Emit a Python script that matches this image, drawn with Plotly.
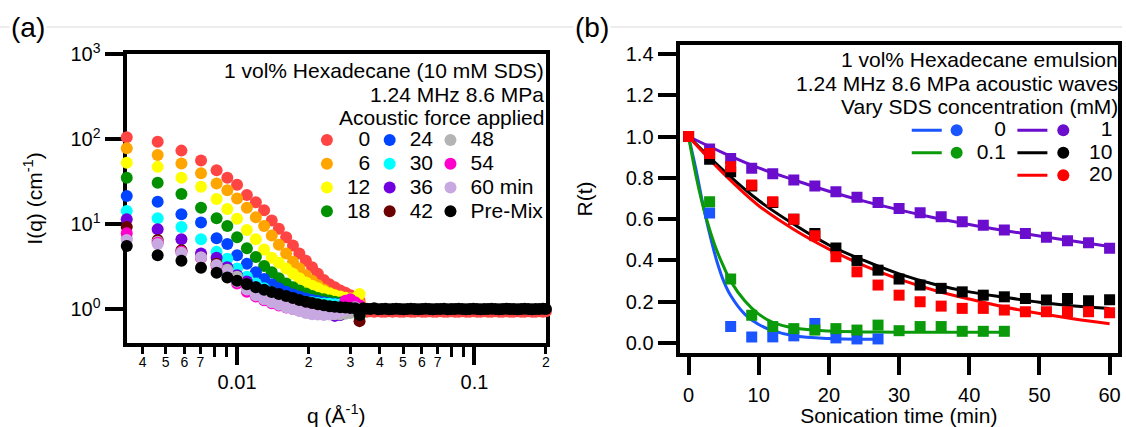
import plotly.graph_objects as go

W, H = 1126, 427
FONT = "Arial, 'Liberation Sans', sans-serif"

# ---------------- Panel (a) data ----------------
q_low = [0.00343, 0.00463, 0.00583, 0.00705, 0.0082, 0.0091, 0.0100, 0.0110, 0.0120, 0.0130,
         0.0140, 0.0150, 0.0161, 0.0172, 0.0183, 0.0195, 0.0207, 0.0219, 0.0232, 0.0245,
         0.0258, 0.0272, 0.0286, 0.0300, 0.0314, 0.0328]
q_tail = [0.0340, 0.0352, 0.0365, 0.0378, 0.0392, 0.0406, 0.0421, 0.0436, 0.0452, 0.0468,
          0.0485, 0.0503, 0.0521, 0.0540, 0.0560, 0.0580, 0.0601, 0.0623, 0.0646, 0.0669,
          0.0693, 0.0718, 0.0744, 0.0771, 0.0799, 0.0828, 0.0858, 0.0889, 0.0921, 0.0954,
          0.0989, 0.1025, 0.1062, 0.1100, 0.1140, 0.1181, 0.1224, 0.1268, 0.1314, 0.1362,
          0.1411, 0.1462, 0.1515, 0.1570, 0.1627, 0.1686, 0.1747, 0.1810, 0.1876, 0.1944, 0.2000]

I_0 = [105, 93, 73, 56, 43, 35, 29, 22, 18, 14.5, 11, 8.8, 7.0, 5.6, 4.5, 3.7, 3.1, 2.6,
       2.2, 1.95, 1.8, 1.65, 1.55, 1.45, 1.35, 1.25]
I_0_tail = [0.94, 0.93, 0.94, 0.93, 0.94, 0.93, 0.93, 0.94, 0.93, 0.94, 0.93, 0.93, 0.94, 0.93,
            0.93, 0.94, 0.93, 0.93, 0.94, 0.93, 0.93, 0.94, 0.93, 0.93, 0.94, 0.93, 0.93, 0.94,
            0.93, 0.93, 0.94, 0.93, 0.93, 0.94, 0.93, 0.93, 0.94, 0.93, 0.93, 0.94, 0.93, 0.93,
            0.94, 0.93, 0.93, 0.94, 0.93, 0.93, 0.94, 0.93, 0.94]
I_6 = [78, 65, 51.6, 39.6, 30, 25, 20, 15.5, 12, 9.5, 7.3, 5.7, 4.5, 3.6, 3.0, 2.5, 2.15, 1.9,
       1.7, 1.55, 1.45, 1.38, 1.32, 1.27, 1.22, 1.18]
I_12 = [52.6, 47, 35, 27.4, 19.7, 15, 11.5, 8.5, 6.6, 5.0, 4.0, 3.5, 3.0, 2.6, 2.3, 2.05, 1.88,
        1.75, 1.62, 1.52, 1.45, 1.4, 1.36, 1.33, 1.35, 1.5]
I_18 = [35, 30.6, 22.5, 15.5, 11.7, 9.5, 7.0, 5.2, 4.1, 3.2, 2.7, 2.3, 2.0, 1.8, 1.65, 1.52,
        1.42, 1.35, 1.3, 1.26, 1.22, 1.19, 1.16, 1.13, 1.08, 0.82]
I_24 = [21.3, 18.3, 13, 10.4, 6.8, 5.8, 4.3, 3.4, 2.7, 2.25, 1.95, 1.75, 1.6, 1.48, 1.4, 1.33,
        1.28, 1.24, 1.2, 1.17, 1.15, 1.13, 1.12, 1.12, 1.1, 1.05]
I_30 = [14.2, 11.7, 9.2, 6.6, 4.7, 3.9, 3.0, 2.4, 2.0, 1.75, 1.58, 1.45, 1.37, 1.3, 1.25, 1.22,
        1.2, 1.18, 1.16, 1.15, 1.14, 1.13, 1.12, 1.1, 1.1, 1.05]
I_36 = [11.4, 8.7, 6.6, 4.5, 4.0, 3.1, 2.5, 2.1, 1.8, 1.6, 1.45, 1.35, 1.27, 1.2, 1.15, 1.1,
        1.05, 1.0, 0.95, 0.88, 0.83, 0.85, 0.9, 0.95, 1.0, 1.0]
I_42 = [9.2, 6.5, 4.9, 4.07, 3.4, 2.8, 2.3, 1.95, 1.7, 1.5, 1.38, 1.28, 1.2, 1.14, 1.1, 1.05,
        1.02, 1.0, 0.98, 0.97, 0.96, 0.96, 0.95, 0.95, 0.93, 0.72]
I_48 = [6.8, 6.2, 4.7, 4.0, 3.2, 2.9, 2.4, 1.85, 1.6, 1.45, 1.33, 1.24, 1.16, 1.1, 1.04, 0.99,
        0.95, 0.92, 0.9, 0.88, 0.87, 0.87, 0.88, 0.9, 0.93, 0.95]
I_54 = [7.8, 6.0, 4.7, 4.0, 3.2, 2.6, 2.0, 1.6, 1.4, 1.27, 1.17, 1.1, 1.04, 1.0, 0.96, 0.93,
        0.91, 0.9, 0.89, 0.9, 0.93, 1.0, 1.25, 1.3, 1.2, 1.1]
I_60 = [6.5, 5.8, 4.6, 4.07, 3.3, 2.7, 2.1, 1.7, 1.45, 1.3, 1.2, 1.12, 1.05, 1.0, 0.95, 0.9,
        0.87, 0.86, 0.85, 0.86, 0.88, 0.92, 0.97, 1.0, 1.05, 1.0]
I_pre = [5.5, 4.3, 3.7, 3.06, 2.67, 2.35, 2.15, 1.95, 1.8, 1.68, 1.58, 1.5, 1.42, 1.35, 1.28,
         1.22, 1.18, 1.14, 1.11, 1.08, 1.06, 1.05, 1.04, 1.03, 1.02, 0.85]
I_pre_tail = [1.02, 1.01, 1.0, 1.02, 0.99, 1.0, 1.01, 0.99, 1.0, 1.01, 1.0, 0.99, 1.0, 1.01,
              1.0, 0.99, 1.0, 1.01, 1.0, 0.99, 1.0, 1.0, 1.01, 0.99, 1.0, 1.0, 1.01, 1.0, 0.99,
              1.0, 1.01, 1.0, 0.99, 1.0, 1.0, 1.01, 1.0, 0.99, 1.0, 1.01, 1.0, 1.0, 0.99, 1.0,
              1.01, 1.0, 0.99, 1.0, 1.0, 1.01, 1.0]

a_labels = ["\u20070", "\u20076", "12", "18", "24", "30", "36", "42", "48", "54", "60 min", "Pre-Mix"]
a_colors = ["#FF4444", "#FFA500", "#FFFF00", "#009000", "#0044FF", "#00FFFF", "#7000E0",
            "#6B0000", "#B4B4B4", "#FF00CC", "#C8A8E0", "#000000"]
a_x = [q_low + q_tail, q_low, q_low, q_low, q_low, q_low, q_low, q_low, q_low, q_low, q_low,
       q_low + q_tail]
a_y = [I_0 + I_0_tail, I_6, I_12, I_18, I_24, I_30, I_36, I_42, I_48, I_54, I_60,
       I_pre + I_pre_tail]
a_legend = ["legend"] * 4 + ["legend2"] * 4 + ["legend3"] * 4

x_major_vals = [0.01, 0.1]
x_major_text = ["0.01", "0.1"]
x_minor_vals = [0.004, 0.005, 0.006, 0.007, 0.02, 0.03, 0.04, 0.05, 0.06, 0.07, 0.2]
x_minor_text = ["4", "5", "6", "7", "2", "3", "4", "5", "6", "7", "2"]
x_unlabelled = [0.008, 0.009, 0.08, 0.09]

# ---------------- Panel (b) data ----------------
t_blue = [0, 3, 6, 9, 12, 15, 18, 21, 24, 27]
t_green = [0, 3, 6, 9, 12, 15, 18, 21, 24, 27, 30, 33, 36, 39, 42, 45]
t_full = [0, 3, 6, 9, 12, 15, 18, 21, 24, 27, 30, 33, 36, 39, 42, 45, 48, 51, 54, 57, 60]
R_0 = [1.0, 0.63, 0.08, 0.03, 0.03, 0.035, 0.095, 0.025, 0.02, 0.02]
R_01 = [1.0, 0.684, 0.31, 0.135, 0.08, 0.07, 0.063, 0.07, 0.063, 0.087, 0.06, 0.08, 0.08,
        0.057, 0.057, 0.057]
R_1 = [1.0, 0.94, 0.894, 0.846, 0.82, 0.79, 0.76, 0.733, 0.706, 0.68, 0.652, 0.631, 0.612,
       0.587, 0.571, 0.547, 0.531, 0.512, 0.495, 0.486, 0.459]
R_10 = [1.0, 0.89, 0.83, 0.76, 0.68, 0.60, 0.53, 0.46, 0.40, 0.353, 0.31, 0.281, 0.265, 0.248,
        0.232, 0.224, 0.216, 0.208, 0.216, 0.205, 0.21]
R_20 = [1.0, 0.918, 0.854, 0.765, 0.684, 0.599, 0.52, 0.418, 0.345, 0.281, 0.232, 0.2, 0.179,
        0.168, 0.168, 0.16, 0.152, 0.152, 0.152, 0.152, 0.147]

tf_0 = [0, 1, 2, 3, 4, 5, 6, 8, 10, 12, 15, 20, 27]
F_0 = [1.0, 0.85, 0.68, 0.53, 0.40, 0.30, 0.23, 0.14, 0.09, 0.06, 0.035, 0.022, 0.018]
tf_01 = [0, 1, 2, 3, 4, 5, 6, 8, 10, 12, 15, 20, 25, 30, 38, 45]
F_01 = [1.0, 0.82, 0.67, 0.55, 0.45, 0.37, 0.30, 0.205, 0.14, 0.10, 0.073, 0.058, 0.054, 0.053,
        0.053, 0.053]
tf_full = [0, 5, 10, 15, 20, 25, 30, 35, 40, 45, 50, 55, 60]
F_1 = [1.0, 0.92, 0.848, 0.79, 0.735, 0.687, 0.645, 0.607, 0.574, 0.545, 0.518, 0.493, 0.468]
F_10 = [1.0, 0.835, 0.69, 0.575, 0.475, 0.40, 0.335, 0.285, 0.248, 0.222, 0.198, 0.18, 0.168]
F_20 = [1.0, 0.82, 0.665, 0.55, 0.455, 0.375, 0.31, 0.256, 0.213, 0.175, 0.143, 0.117, 0.094]

b_names = ["\u2007\u00a00", "0.1", "\u00a0\u20071", "\u00a010", "\u00a020"]
b_colors = ["#1A55FF", "#0A9A0A", "#6A0DCC", "#000000", "#FF0000"]
b_t = [t_blue, t_green, t_full, t_full, t_full]
b_R = [R_0, R_01, R_1, R_10, R_20]
b_tf = [tf_0, tf_01, tf_full, tf_full, tf_full]
b_F = [F_0, F_01, F_1, F_10, F_20]
b_line_leg = ["legend4", "legend4", "legend6", "legend6", "legend6"]
b_dot_leg = ["legend5", "legend5", "legend7", "legend7", "legend7"]

fig = go.Figure()

# Panel (a) traces
for xs, ys, lab, col, lg in zip(a_x, a_y, a_labels, a_colors, a_legend):
    fig.add_trace(go.Scatter(
        x=xs, y=ys, mode="markers", name=f'<span style="font-size:21px">{lab}</span>',
        marker=dict(size=12, color=col, line=dict(width=0)),
        legend=lg, cliponaxis=False, xaxis="x", yaxis="y", hoverinfo="x+y"))

# helper axis for the labelled minor ticks
fig.add_trace(go.Scatter(x=[None], y=[None], xaxis="x3", yaxis="y", showlegend=False,
                         hoverinfo="skip"))

# Panel (b): fits
for tf, F, col, lg in zip(b_tf, b_F, b_colors, b_line_leg):
    fig.add_trace(go.Scatter(
        x=tf, y=F, mode="lines", line=dict(color=col, width=3, shape="spline"),
        name="\u00a0", legend=lg, xaxis="x2", yaxis="y2"))
# Panel (b): data
for t, R, col in zip(b_t, b_R, b_colors):
    fig.add_trace(go.Scatter(
        x=t, y=R, mode="markers", showlegend=False,
        marker=dict(symbol="square", size=11, color=col, line=dict(width=0)),
        error_y=dict(type="constant", value=0.02, thickness=3, width=0, color=col),
        xaxis="x2", yaxis="y2"))
# Panel (b): legend dots
for col, nm, lg in zip(b_colors, b_names, b_dot_leg):
    fig.add_trace(go.Scatter(
        x=[None], y=[None], mode="markers", name=f'<span style="font-size:21px">{nm}</span>',
        marker=dict(size=12, color=col), legend=lg, xaxis="x2", yaxis="y2"))


def px_x(v):
    return v / W


def px_y(v):
    return 1 - v / H


def leg(xl, ytop, size):
    return dict(x=px_x(xl), y=px_y(ytop), xanchor="left", yanchor="top",
                bgcolor="rgba(0,0,0,0)", borderwidth=0, orientation="v", tracegroupgap=0,
                itemwidth=30, font=dict(size=size, family=FONT, color="black"))


ax_common = dict(showline=True, linewidth=4, linecolor="black", mirror=True, ticks="outside",
                 tickwidth=4, tickcolor="black", showgrid=False, zeroline=False,
                 tickfont=dict(size=20, family=FONT, color="black"), automargin=False,
                 layer="below traces")

XR = [-2.4655, -0.6985]

fig.update_layout(
    width=W, height=H, margin=dict(l=0, r=0, t=0, b=0),
    paper_bgcolor="white", plot_bgcolor="white", showlegend=True,
    font=dict(family=FONT, color="black"),
    xaxis=dict(**ax_common, type="log", range=XR,
               domain=[px_x(127), px_x(548)], anchor="y",
               tickmode="array", tickvals=x_major_vals, ticktext=x_major_text, ticklen=18,
               minor=dict(tickmode="array", tickvals=x_unlabelled, ticks="outside", ticklen=10,
                          tickwidth=3, tickcolor="black", showgrid=False),
               title=dict(text="q (Å<sup>-1</sup>)", font=dict(size=21), standoff=21)),
    xaxis3=dict(type="log", range=XR, overlaying="x", anchor="y",
                showline=False, showgrid=False, zeroline=False, ticks="outside",
                tickmode="array", tickvals=x_minor_vals, ticktext=x_minor_text,
                ticklen=10, tickwidth=3, tickcolor="black", ticklabelstandoff=-4,
                tickfont=dict(size=14, family=FONT, color="black")),
    yaxis=dict(**ax_common, type="log", range=[-0.4, 3],
               domain=[px_y(343), px_y(54)], anchor="x",
               tickmode="array", tickvals=[1, 10, 100, 1000],
               ticktext=["10<sup>0</sup>", "10<sup>1</sup>", "10<sup>2</sup>", "10<sup>3</sup>"],
               ticklen=18,
               title=dict(text="I(q) (cm<sup>-1</sup>)", font=dict(size=21), standoff=23)),
    xaxis2=dict(**ax_common, range=[-1.28, 61.2], domain=[px_x(682), px_x(1122)], anchor="y2",
                tickmode="array", tickvals=[0, 10, 20, 30, 40, 50, 60], ticklen=18,
                ticklabelstandoff=3,
                title=dict(text="Sonication time (min)", font=dict(size=21), standoff=7)),
    yaxis2=dict(**ax_common, range=[-0.048, 1.443], domain=[px_y(353), px_y(45)], anchor="x2",
                tickmode="array", tickvals=[0, 0.2, 0.4, 0.6, 0.8, 1.0, 1.2, 1.4],
                ticktext=["0.0", "0.2", "0.4", "0.6", "0.8", "1.0", "1.2", "1.4"], ticklen=18,
                title=dict(text="R(t)", font=dict(size=21), standoff=28)),
    legend=leg(308, 123, 16),
    legend2=leg(371, 123, 16),
    legend3=leg(432, 123, 16),
    legend4=leg(910, 114, 15),
    legend5=leg(940, 114, 15),
    legend6=leg(1016, 114, 15),
    legend7=leg(1047, 114, 15),
)

# page rule behind the panel labels
fig.add_shape(type="line", xref="paper", yref="paper", x0=0, x1=1, y0=px_y(27), y1=px_y(27),
              line=dict(color="#DADADA", width=1), layer="below")

ann = [
    ("(a)", 28, 28, "center", 28),
    ("(b)", 594, 28, "center", 28),
    ("1 vol% Hexadecane (10 mM SDS)", 548, 71, "right", 21),
    ("1.24 MHz 8.6 MPa", 548, 94, "right", 21),
    ("Acoustic force applied", 548, 117, "right", 21),
    ("1 vol% Hexadecane emulsion", 1124, 60, "right", 21),
    ("1.24 MHz 8.6 MPa acoustic waves", 1124, 83, "right", 21),
    ("Vary SDS concentration (mM)", 1124, 106, "right", 21),
]
for txt, xp, yp, anc, fs in ann:
    fig.add_annotation(text=txt, x=px_x(xp), y=px_y(yp), xref="paper", yref="paper",
                       xanchor=anc, yanchor="middle", showarrow=False,
                       bgcolor="white" if txt.startswith("(") else None,
                       font=dict(size=fs, family=FONT, color="black"))

fig.write_html("out.html", config={"displayModeBar": False},
               post_script="document.body.style.margin='0';")
